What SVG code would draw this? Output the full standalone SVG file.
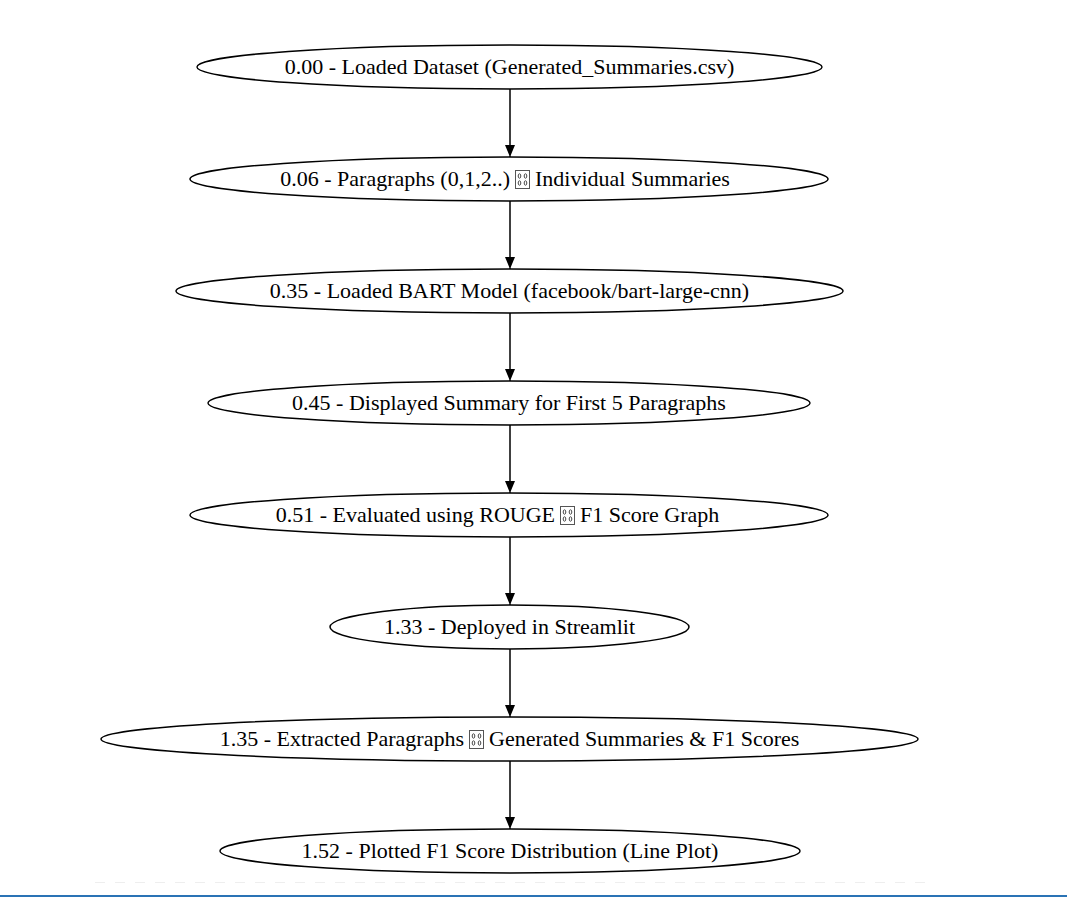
<svg xmlns="http://www.w3.org/2000/svg" width="1067" height="897" viewBox="0 0 1067 897">
<style>
.n ellipse{fill:#fff;stroke:#000;stroke-width:1.5}
.t{font-family:"Liberation Serif","Times New Roman","DejaVu Serif",serif;font-size:22px;fill:#000}
.e line{stroke:#000;stroke-width:1.5}
.tofu rect{fill:#fff;stroke:#555;stroke-width:1}
.tofu ellipse{fill:none;stroke:#333;stroke-width:0.9}
</style>
<defs>
<marker id="ah" markerWidth="10" markerHeight="13" refX="12" refY="5" orient="auto" markerUnits="userSpaceOnUse">
<path d="M0,0 L12,5 L0,10 Z" fill="#000"/>
</marker>
<g id="tofu" class="tofu"><rect x="0.5" y="0.5" width="14" height="18"/><ellipse cx="4.5" cy="6" rx="1.3" ry="2.2"/><ellipse cx="10.5" cy="6" rx="1.3" ry="2.2"/><ellipse cx="4.5" cy="13" rx="1.3" ry="2.2"/><ellipse cx="10.5" cy="13" rx="1.3" ry="2.2"/></g>
</defs>
<rect width="1067" height="897" fill="#fff"/>
<g class="e" id="edges">
<line x1="510" y1="89" x2="510" y2="157" marker-end="url(#ah)"/>
<line x1="510" y1="201" x2="510" y2="269" marker-end="url(#ah)"/>
<line x1="510" y1="313" x2="510" y2="381" marker-end="url(#ah)"/>
<line x1="510" y1="425" x2="510" y2="493" marker-end="url(#ah)"/>
<line x1="510" y1="537" x2="510" y2="605" marker-end="url(#ah)"/>
<line x1="510" y1="649" x2="510" y2="717" marker-end="url(#ah)"/>
<line x1="510" y1="761" x2="510" y2="829" marker-end="url(#ah)"/>
</g>
<g class="n" id="n1"><ellipse cx="509.5" cy="67" rx="312.5" ry="22"/><text class="t" x="509.5" y="74" text-anchor="middle">0.00 - Loaded Dataset (Generated_Summaries.csv)</text></g>
<g class="n" id="n2"><ellipse cx="509" cy="179" rx="319" ry="22"/><text class="t" x="510" y="186" text-anchor="end">0.06 - Paragraphs (0,1,2..)</text><use href="#tofu" x="515" y="170"/><text class="t" x="535" y="186">Individual Summaries</text></g>
<g class="n" id="n3"><ellipse cx="509.5" cy="291" rx="333.5" ry="22"/><text class="t" x="509.5" y="298" text-anchor="middle">0.35 - Loaded BART Model (facebook/bart-large-cnn)</text></g>
<g class="n" id="n4"><ellipse cx="509" cy="403" rx="301" ry="22"/><text class="t" x="509" y="410" text-anchor="middle">0.45 - Displayed Summary for First 5 Paragraphs</text></g>
<g class="n" id="n5"><ellipse cx="509" cy="515" rx="319" ry="22"/><text class="t" x="555" y="522" text-anchor="end">0.51 - Evaluated using ROUGE</text><use href="#tofu" x="560" y="506"/><text class="t" x="580" y="522">F1 Score Graph</text></g>
<g class="n" id="n6"><ellipse cx="509.5" cy="627" rx="179.5" ry="22"/><text class="t" x="509.5" y="634" text-anchor="middle">1.33 - Deployed in Streamlit</text></g>
<g class="n" id="n7"><ellipse cx="509.5" cy="739" rx="408.5" ry="22"/><text class="t" x="464" y="746" text-anchor="end">1.35 - Extracted Paragraphs</text><use href="#tofu" x="469" y="730"/><text class="t" x="489" y="746">Generated Summaries &amp; F1 Scores</text></g>
<g class="n" id="n8"><ellipse cx="510" cy="851" rx="290" ry="22"/><text class="t" x="510" y="858" text-anchor="middle">1.52 - Plotted F1 Score Distribution (Line Plot)</text></g>
<line x1="95" y1="882.5" x2="925" y2="882.5" stroke="#eeeeee" stroke-width="1" stroke-dasharray="10 10"/>
<line x1="0" y1="896" x2="1067" y2="896" stroke="#2a73b5" stroke-width="2"/>
</svg>
